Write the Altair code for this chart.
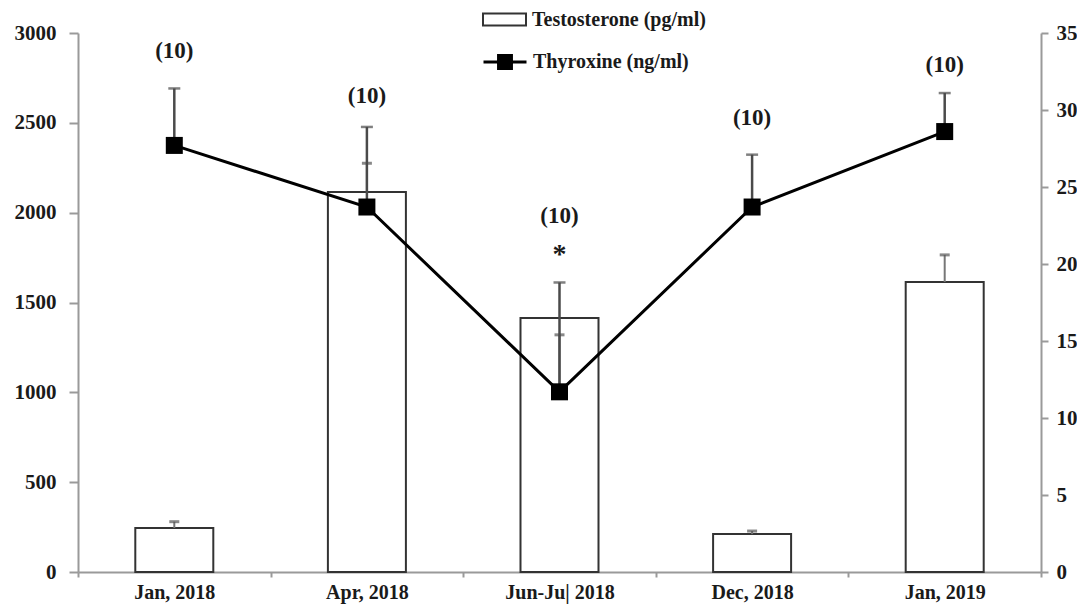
import altair as alt
import pandas as pd

periods = ["Jan, 2018", "Apr, 2018", "Jun-Ju| 2018", "Dec, 2018", "Jan, 2019"]
testosterone = [245, 2115, 1414, 211, 1614]
testo_err_lo = [245, 2115, 1000, 211, 1614]
testo_err_hi = [280, 2275, 1320, 228, 1765]
thyroxine = [27.7, 23.7, 11.7, 23.7, 28.6]
thyro_err_hi = [31.4, 28.9, 18.8, 27.1, 31.1]
n_labels = ["(10)", "(10)", "(10)", "(10)", "(10)"]
n_label_pos = [33.8, 30.9, 23.1, 29.5, 32.9]
sig_labels = ["", "", "*", "", ""]
sig_pos = [0, 0, 20.6, 0, 0]

df = pd.DataFrame({
    "period": periods,
    "testosterone": testosterone,
    "t_lo": testo_err_lo,
    "t_hi": testo_err_hi,
    "thyroxine": thyroxine,
    "th_hi": thyro_err_hi,
    "n": n_labels,
    "npos": n_label_pos,
    "sig": sig_labels,
    "sigpos": sig_pos,
    "s1": ["Testosterone (pg/ml)"] * 5,
    "s2": ["Thyroxine (ng/ml)"] * 5,
})

FONT = "Liberation Serif"
TXT = "#1a1a1a"
AX = "#9a9a9a"

x_enc = alt.X(
    "period:N", sort=periods,
    scale=alt.Scale(paddingInner=0, paddingOuter=0),
    axis=alt.Axis(title=None, labelAngle=0, tickBand="extent", tickSize=5,
                  labelPadding=5, labelFontSize=20, domainColor=AX, tickColor=AX),
)

base = alt.Chart(df).encode(x=x_enc)

yl_scale = alt.Scale(domain=[0, 3000], nice=False, zero=True)
yr_scale = alt.Scale(domain=[0, 35], nice=False, zero=True)
yl_axis = alt.Axis(values=list(range(0, 3001, 500)), format="d", title=None, grid=False,
                   tickSize=9, labelPadding=13)
yr_axis = alt.Axis(orient="right", values=list(range(0, 36, 5)), format="d", title=None, grid=False,
                   tickSize=7, labelPadding=8)

bars = base.mark_bar(width=alt.RelativeBandSize(0.405), stroke="#333", strokeWidth=2).encode(
    y=alt.Y("testosterone:Q", scale=yl_scale, axis=yl_axis),
    fill=alt.Fill("s1:N", scale=alt.Scale(range=["white"]),
                  legend=alt.Legend(title=None, orient="none", legendX=404, legendY=-36,
                                    symbolType="M-1,-0.28H1V0.28H-1Z", symbolSize=1849,
                                    symbolStrokeColor="#333", symbolStrokeWidth=2,
                                    labelOffset=5, padding=0, labelLimit=400)),
)
t_err = base.mark_rule(color="#777", strokeWidth=2).encode(
    y=alt.Y("t_lo:Q", scale=yl_scale, axis=yl_axis), y2="t_hi:Q")
t_cap = base.mark_tick(color="#555", size=10, thickness=3).encode(
    y=alt.Y("t_hi:Q", scale=yl_scale, axis=yl_axis))

left = alt.layer(bars, t_err, t_cap)

line = base.mark_line(strokeWidth=3).encode(
    y=alt.Y("thyroxine:Q", scale=yr_scale, axis=yr_axis),
    stroke=alt.Stroke("s2:N", scale=alt.Scale(range=["black"]),
                      legend=alt.Legend(title=None, orient="none", legendX=404, legendY=6,
                                        symbolType="M-1,0H1M-0.3,-0.3H0.3V0.3H-0.3Z",
                                        symbolSize=1849, symbolStrokeWidth=3,
                                        symbolFillColor="black",
                                        labelOffset=5, padding=0, labelLimit=400)),
)
th_err = base.mark_rule(color="#4a4a4a", strokeWidth=2.5).encode(
    y=alt.Y("thyroxine:Q", scale=yr_scale, axis=yr_axis), y2="th_hi:Q")
th_cap = base.mark_tick(color="#4a4a4a", size=12, thickness=2.5).encode(
    y=alt.Y("th_hi:Q", scale=yr_scale, axis=yr_axis))
pts = base.mark_point(shape="square", filled=True, size=289, color="black", opacity=1).encode(
    y=alt.Y("thyroxine:Q", scale=yr_scale, axis=yr_axis))
n_txt = base.mark_text(font=FONT, fontWeight="bold", fontSize=23, color=TXT, baseline="middle").encode(
    y=alt.Y("npos:Q", scale=yr_scale, axis=yr_axis), text="n:N")
s_txt = base.mark_text(font=FONT, fontWeight="bold", fontSize=28, color=TXT, baseline="middle").encode(
    y=alt.Y("sigpos:Q", scale=yr_scale, axis=yr_axis), text="sig:N")

right = alt.layer(line, th_err, th_cap, pts, n_txt, s_txt)

chart = alt.layer(left, right).resolve_scale(y="independent").properties(
    width=963, height=539,
    autosize=alt.AutoSizeParams(type="none"),
    padding={"left": 70, "top": 25, "right": 36, "bottom": 35},
).configure_view(stroke=None).configure_axis(
    labelFont=FONT, labelFontWeight="bold", labelFontSize=21, labelColor=TXT,
    domainColor=AX, domainWidth=2, tickColor=AX, tickWidth=2,
).configure_legend(
    labelFont=FONT, labelFontWeight="bold", labelFontSize=20, labelColor=TXT,
)

chart.save("out.html", embed_options={"renderer": "svg", "actions": False})
